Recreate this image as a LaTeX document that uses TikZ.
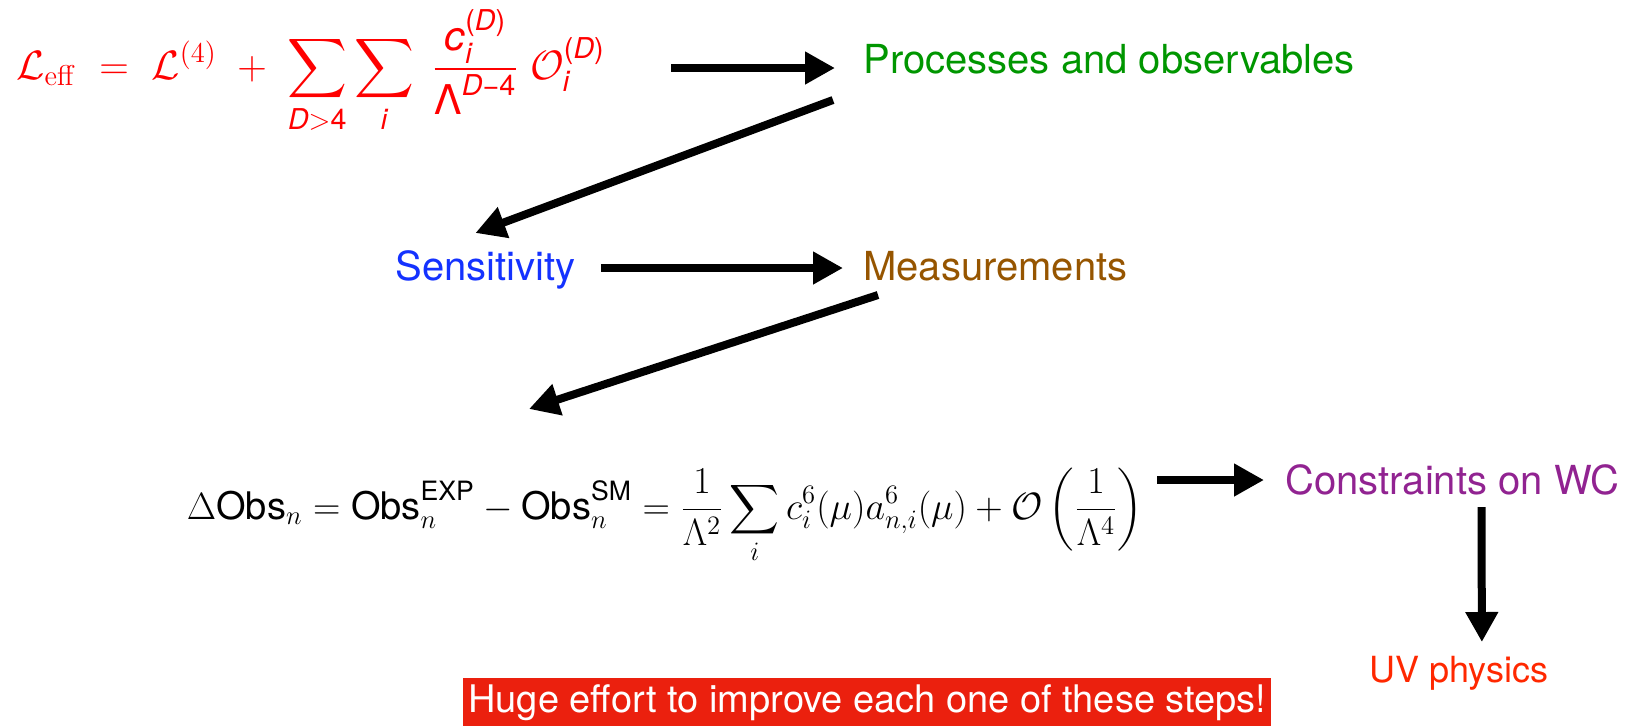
\RequirePackage{fix-cm}
\documentclass[tikz,border=0pt]{standalone}
\usepackage{amsmath}
\usepackage[no-math]{fontspec}
\setmainfont{TeX Gyre Heros}
\usepackage{tikz}
\usetikzlibrary{arrows.meta,positioning,calc}

\definecolor{effred}{RGB}{255,0,0}
\definecolor{procgreen}{RGB}{0,150,0}
\definecolor{sensblue}{RGB}{20,50,255}
\definecolor{measbrown}{RGB}{150,85,0}
\definecolor{conspurple}{RGB}{145,35,145}
\definecolor{uvred}{RGB}{255,40,0}
\definecolor{boxred}{RGB}{235,32,14}

\newcommand{\sv}[1]{\text{\itshape #1}}

\tikzset{%
  steptext/.style={anchor=base west,inner sep=0pt,font=\fontsize{20}{24}\selectfont},
  arrow/.style={-{Triangle[length=15pt,width=15.5pt]}, line width=4pt}%
}

\begin{document}
\begin{tikzpicture}[x=0.5pt,y=-0.5pt]
\useasboundingbox (0,0) rectangle (1634,725);

% Effective Lagrangian
\node[inner sep=0pt,anchor=west,text=effred,font=\fontsize{20.5}{24}\selectfont] (leff) at (16,72)
  {$\displaystyle \mathcal{L}_{\mathrm{eff}} \;=\; \mathcal{L}^{(4)} \;+\; \sum_{\sv{D}>\text{4}}\sum_{\sv{i}}\;
   \frac{\sv{c}_{\sv{i}}^{\text{(}\sv{D}\text{)}}}{\text{Λ}^{\sv{D}\text{−4}}}\;\mathcal{O}_{\sv{i}}^{\text{(}\sv{D}\text{)}}$};

% Steps
\node[steptext,text=procgreen] (proc) at (863,73) {Processes and observables};
\node[steptext,text=sensblue] (sens) at (395,280) {Sensitivity};
\node[steptext,text=measbrown] (meas) at (863,280) {Measurements};
\node[inner sep=0pt,font=\fontsize{19}{23}\selectfont] (eq) at (665,516)
  {$\displaystyle \Delta\text{Obs}_n = \text{Obs}_n^{\text{EXP}} - \text{Obs}_n^{\text{SM}}
   = \frac{1}{\Lambda^2}\sum_i c_i^6(\mu)a_{n,i}^6(\mu) + \mathcal{O}\left(\frac{1}{\Lambda^4}\right)$};
\node[steptext,text=conspurple] (cons) at (1285,494) {Constraints on WC};
\node[steptext,text=uvred,font=\fontsize{18}{22}\selectfont] (uv) at (1369,682) {UV physics};

% Banner
\node[anchor=north west,fill=boxred,text=white,inner xsep=2.5pt,minimum height=23.5pt,
  font=\fontsize{19}{23}\selectfont] (effort) at (463,678) {Huge effort to improve each one of these steps!};

% Arrows
\draw[arrow] ($(leff.east |- proc.base west)+(33pt,2.5pt)$) -- ($(proc.base west)+(-14pt,2.5pt)$);
\draw[arrow] ($(proc.base west)+(-15pt,-13.5pt)$) -- ($(sens.base)+(-5pt,23.5pt)$);
\draw[arrow] ($(sens.base east)+(12.5pt,6pt)$) -- ($(meas.base west)+(-10pt,6pt)$);
\draw[arrow] ($(meas.base west)+(7.5pt,-7.5pt)$) -- ($(eq.center)+(-68pt,53.5pt)$);
\draw[arrow] ($(eq.east |- cons.base west)+(7pt,7pt)$) -- ($(cons.base west)+(-10.5pt,7pt)$);
\draw[arrow] ($(cons.base)+(14.5pt,-6.5pt)$) -- ($(uv.base)+(11.5pt,20pt)$);

\end{tikzpicture}
\end{document}
